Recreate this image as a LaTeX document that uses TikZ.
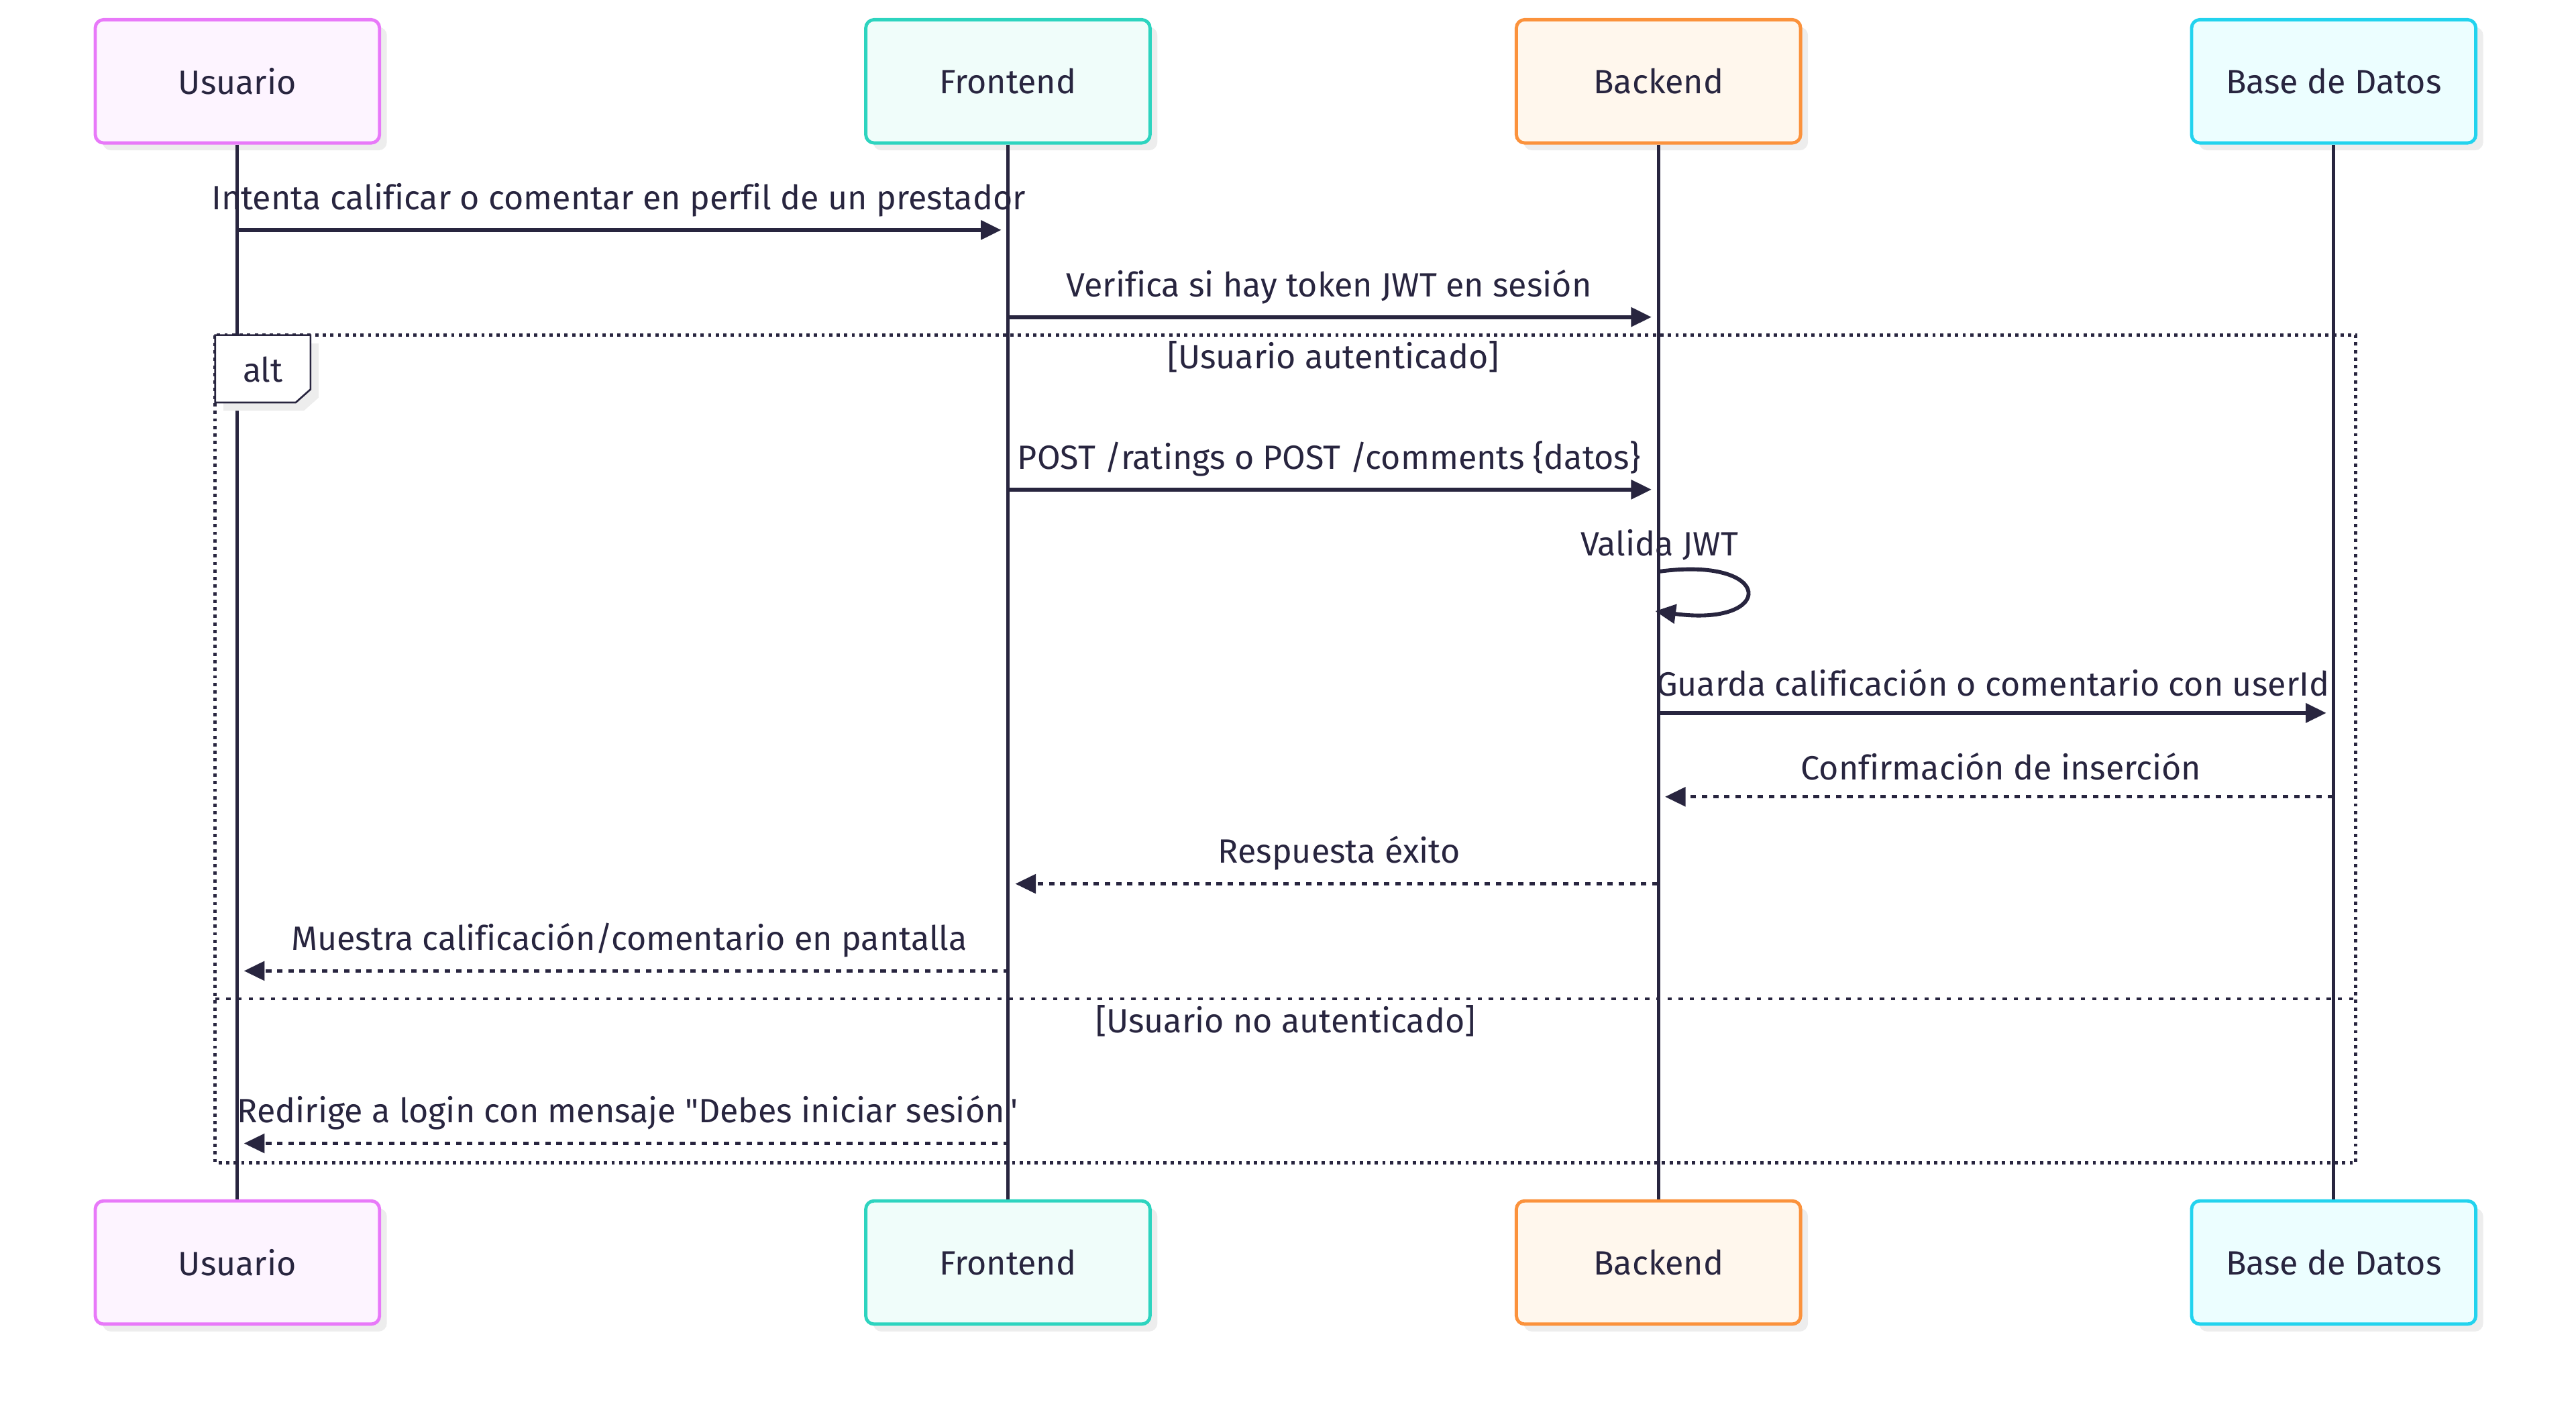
\documentclass[tikz,border=0pt]{standalone}
\usepackage{fontspec}
\setmainfont{Fira Sans}[Ligatures={TeXOff,CommonOff}]
\usetikzlibrary{arrows.meta,shadows}

\definecolor{ink}{HTML}{28253F}
\definecolor{usercol}{HTML}{E879F9}
\definecolor{userfill}{HTML}{FDF4FF}
\definecolor{frontcol}{HTML}{2DD4BF}
\definecolor{frontfill}{HTML}{F0FDFA}
\definecolor{backcol}{HTML}{FB923C}
\definecolor{backfill}{HTML}{FFF7ED}
\definecolor{dbcol}{HTML}{22D3EE}
\definecolor{dbfill}{HTML}{ECFEFF}

\begin{document}
\begin{tikzpicture}[x=1pt, y=-1pt,
        every node/.style={font=\fontsize{20.5}{24}\selectfont, text=ink},
        actor/.style={rectangle, rounded corners=5pt, line width=2pt,
        minimum width=173pt, minimum height=75pt,
        drop shadow={shadow xshift=4.5pt, shadow yshift=-4.5pt, fill=black!7, opacity=1}},
        life/.style={draw=ink, line width=2pt},
        msg/.style={draw=ink, line width=2.4pt, -{Triangle[length=12.5pt,width=11.5pt]}},
        reply/.style={msg, line width=2.1pt, dash pattern=on 3.3pt off 3.5pt},
        frame/.style={draw=ink, line width=2pt, dash pattern=on 2pt off 2.6pt},
        sep/.style={draw=ink, line width=2pt, dash pattern=on 2.6pt off 4.2pt},
        lbl/.style={anchor=base, inner sep=0pt}
        ]
    \useasboundingbox (0,0) rectangle (1568,854.6);

    \node[actor, draw=usercol, fill=userfill] (u_top) at (144.5,49.5) {Usuario};
    \node[actor, draw=frontcol, fill=frontfill] (f_top) at (613.5,49.5) {Frontend};
    \node[actor, draw=backcol, fill=backfill] (b_top) at (1009.5,49.5) {Backend};
    \node[actor, draw=dbcol, fill=dbfill] (d_top) at (1420.5,49.5) {Base de Datos};
    \node[actor, draw=usercol, fill=userfill] (u_bot) at (144.5,768.5) {Usuario};
    \node[actor, draw=frontcol, fill=frontfill] (f_bot) at (613.5,768.5) {Frontend};
    \node[actor, draw=backcol, fill=backfill] (b_bot) at (1009.5,768.5) {Backend};
    \node[actor, draw=dbcol, fill=dbfill] (d_bot) at (1420.5,768.5) {Base de Datos};

    \draw[life] (u_top.south) -- (u_bot.north);
    \draw[life] (f_top.south) -- (f_bot.north);
    \draw[life] (b_top.south) -- (b_bot.north);
    \draw[life] (d_top.south) -- (d_bot.north);

    \coordinate (m1_s) at (144,140);
    \coordinate (m1_e) at (609.5,140);
    \coordinate (m2_s) at (614,193);
    \coordinate (m2_e) at (1005.3,193);
    \coordinate (m4_s) at (614,298);
    \coordinate (m4_e) at (1005.3,298);
    \coordinate (m5_s) at (1009,348);
    \coordinate (m5_e) at (1007.5,372);
    \coordinate (m6_s) at (1009,434);
    \coordinate (m6_e) at (1416,434);
    \coordinate (m7_s) at (1420,485);
    \coordinate (m7_e) at (1013.5,485);
    \coordinate (m8_s) at (1009,538);
    \coordinate (m8_e) at (618,538);
    \coordinate (m9_s) at (614,591);
    \coordinate (m9_e) at (148.5,591);
    \coordinate (m11_s) at (614,696);
    \coordinate (m11_e) at (148.5,696);

    \node[lbl] (t1) at (376.5,127.5) {Intenta calificar o comentar en perfil de un prestador};
    \draw[msg] (m1_s) -- (m1_e);
    \node[lbl] (t2) at (809,180.5) {Verifica si hay token JWT en sesión};
    \draw[msg] (m2_s) -- (m2_e);

    \draw[frame] (131,204) rectangle (1434,708);
    \draw[sep] (131,608) -- (1434,608);
    \fill[black!7] (136,209) -- (194,209) -- (194,242) -- (185,250) -- (136,250) -- cycle;
    \draw[ink, line width=1.1pt, fill=white] (131,204) -- (189,204) -- (189,237)
        -- (180,245) -- (131,245) -- cycle;
    \node[lbl] (alt_t) at (160,232.5) {alt};
    \node[lbl] (g1) at (811.5,224.5) {[Usuario autenticado]};
    \node[lbl] (g2) at (782.5,628.5) {[Usuario no autenticado]};

    \node[lbl] (t4) at (809,285.5) {POST /ratings o POST /comments \{datos\}};
    \draw[msg] (m4_s) -- (m4_e);
    \node[lbl] (t5) at (1010,338.5) {Valida JWT};
    \draw[msg] (m5_s) .. controls (1081,338) and (1081,382) .. (m5_e);
    \node[lbl] (t6) at (1213,423.5) {Guarda calificación o comentario con userId};
    \draw[msg] (m6_s) -- (m6_e);
    \node[lbl] (t7) at (1218,474.5) {Confirmación de inserción};
    \draw[reply] (m7_s) -- (m7_e);
    \node[lbl] (t8) at (815,525.5) {Respuesta éxito};
    \draw[reply] (m8_s) -- (m8_e);
    \node[lbl] (t9) at (383,578.5) {Muestra calificación/comentario en pantalla};
    \draw[reply] (m9_s) -- (m9_e);
    \node[lbl] (t11) at (382,683.5) {Redirige a login con mensaje "Debes iniciar sesión"};
    \draw[reply] (m11_s) -- (m11_e);
\end{tikzpicture}
\end{document}
